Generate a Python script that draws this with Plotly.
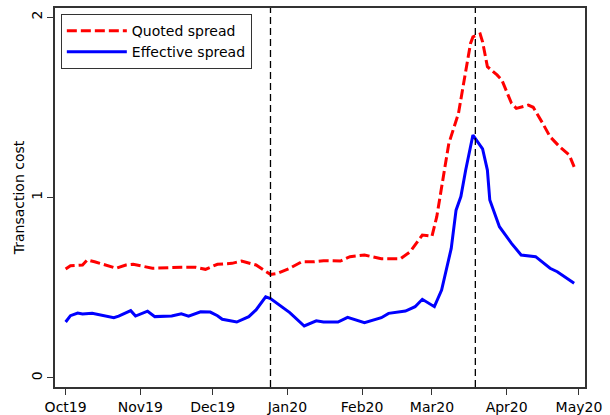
import plotly.graph_objects as go

# ---- data ----
eff_dates = ["2019-10-01","2019-10-03","2019-10-06","2019-10-08","2019-10-12","2019-10-17","2019-10-21",
             "2019-10-23","2019-10-28","2019-10-30","2019-11-04","2019-11-07","2019-11-11","2019-11-14",
             "2019-11-18","2019-11-21","2019-11-26","2019-11-30","2019-12-03","2019-12-05","2019-12-11",
             "2019-12-16","2019-12-19","2019-12-23","2019-12-25","2020-01-02","2020-01-08","2020-01-13",
             "2020-01-16","2020-01-22","2020-01-26","2020-02-02","2020-02-09","2020-02-12","2020-02-19",
             "2020-02-23","2020-02-26","2020-03-02","2020-03-05","2020-03-09","2020-03-11","2020-03-13",
             "2020-03-15","2020-03-18","2020-03-22","2020-03-24","2020-03-25","2020-03-29","2020-04-03",
             "2020-04-07","2020-04-13","2020-04-19","2020-04-22","2020-04-29"]
eff_vals = [0.31,0.345,0.36,0.355,0.358,0.345,0.334,
            0.343,0.373,0.343,0.37,0.34,0.34,0.343,
            0.355,0.343,0.367,0.365,0.345,0.325,0.31,
            0.34,0.377,0.45,0.44,0.362,0.288,0.317,
            0.31,0.31,0.336,0.306,0.334,0.358,0.371,
            0.395,0.436,0.395,0.487,0.718,0.93,1.005,
            1.152,1.346,1.27,1.152,0.986,0.838,0.746,
            0.681,0.672,0.608,0.589,0.525]

quo_dates = ["2019-10-01","2019-10-03","2019-10-08","2019-10-10","2019-10-13","2019-10-22","2019-10-26",
             "2019-10-29","2019-11-06","2019-11-13","2019-11-18","2019-11-24","2019-11-28","2019-12-03",
             "2019-12-09","2019-12-13","2019-12-19","2019-12-25","2019-12-28","2020-01-02","2020-01-07",
             "2020-01-12","2020-01-16","2020-01-23","2020-01-27","2020-02-02","2020-02-04","2020-02-09",
             "2020-02-17","2020-02-21","2020-02-26","2020-03-01","2020-03-03","2020-03-06","2020-03-08",
             "2020-03-12","2020-03-14","2020-03-17","2020-03-18","2020-03-21","2020-03-22","2020-03-24",
             "2020-03-28","2020-03-30","2020-04-03","2020-04-05","2020-04-10","2020-04-12","2020-04-16",
             "2020-04-19","2020-04-23","2020-04-27","2020-04-29"]
quo_vals = [0.604,0.622,0.626,0.654,0.644,0.608,0.626,
            0.63,0.608,0.613,0.613,0.613,0.602,0.63,
            0.635,0.648,0.626,0.574,0.58,0.608,0.644,
            0.644,0.65,0.648,0.672,0.681,0.676,0.661,
            0.661,0.70,0.792,0.785,0.894,1.152,1.30,
            1.466,1.614,1.854,1.89,1.906,1.863,1.725,
            1.679,1.651,1.522,1.494,1.512,1.50,1.41,
            1.337,1.281,1.235,1.17]

event_dates = ["2019-12-25", "2020-03-19"]

tick_dates = ["2019-10-01","2019-11-01","2019-12-01","2020-01-01","2020-02-01",
              "2020-03-01","2020-04-01","2020-05-01"]
tick_labels = ["Oct19","Nov19","Dec19","Jan20","Feb20","Mar20","Apr20","May20"]
y_ticks = [0, 1, 2]

FONT = "DejaVu Sans"

fig = go.Figure()
fig.add_trace(go.Scatter(x=quo_dates, y=quo_vals, mode="lines", name="Quoted spread",
                         line=dict(color="#ff0000", width=3, dash="10px,4px")))
fig.add_trace(go.Scatter(x=eff_dates, y=eff_vals, mode="lines", name="Effective spread",
                         line=dict(color="#0000ff", width=3)))

for d in event_dates:
    fig.add_shape(type="line", xref="x", yref="paper", x0=d, x1=d, y0=0, y1=1,
                  line=dict(color="black", width=1.3, dash="7px,4px"))

fig.update_layout(
    width=610, height=415,
    margin=dict(l=55, r=25, t=8, b=28, autoexpand=False),
    paper_bgcolor="white", plot_bgcolor="white",
    font=dict(family=FONT, size=14, color="black"),
    showlegend=True,
    legend=dict(x=0.011, y=0.984, xanchor="left", yanchor="top",
                bordercolor="#333333", borderwidth=1, bgcolor="white",
                font=dict(family=FONT, size=14), itemwidth=60,
                tracegroupgap=0),
)
fig.update_xaxes(type="date", range=["2019-09-26 14:00", "2020-05-03 12:00"],
                 tickvals=tick_dates, ticktext=tick_labels,
                 ticks="outside", ticklen=6, tickwidth=1, tickcolor="#333333",
                 showline=True, linecolor="#333333", linewidth=1.5, mirror=True,
                 showgrid=False, zeroline=False,
                 tickfont=dict(family=FONT, size=14))
fig.update_yaxes(range=[-0.05, 2.05], tickvals=y_ticks, ticktext=[str(v) for v in y_ticks],
                 ticks="outside", ticklen=6, tickwidth=1, tickcolor="#333333",
                 tickangle=-90,
                 showline=True, linecolor="#333333", linewidth=1.5, mirror=True,
                 showgrid=False, zeroline=False,
                 title=dict(text="Transaction cost", font=dict(family=FONT, size=14), standoff=1),
                 tickfont=dict(family=FONT, size=14))

fig.write_html("out.html", config={"displayModeBar": False},
               post_script="document.body.style.margin='0px';")
